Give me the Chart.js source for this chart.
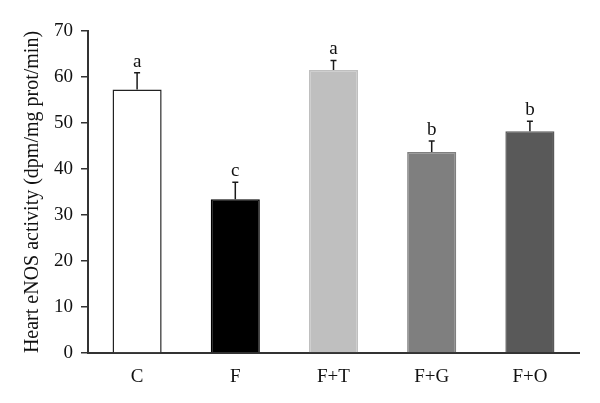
<!DOCTYPE html>
<html>
<head>
<meta charset="utf-8">
<script src="https://cdn.jsdelivr.net/npm/chart.js@4"></script>
<style>
  html, body { margin: 0; padding: 0; background: #fff; }
  #wrap { width: 600px; height: 403px; }
</style>
</head>
<body>
<div id="wrap"><canvas id="grafica"></canvas></div>
<script>
// datos
const grupos = ['C', 'F', 'F+T', 'F+G', 'F+O'];
const actividad = [57.3, 33.4, 61.5, 43.7, 48.2];
const errorSup = [3.6, 3.7, 2.1, 2.4, 2.2];
const letras = ['a', 'c', 'a', 'b', 'b'];
const coloresBarra = ['#ffffff', '#000000', '#bfbfbf', '#7f7f7f', '#595959'];
const bordesBarra = ['#222222', '#000000', '#bfbfbf', '#7f7f7f', '#595959'];
const ticksY = [0, 10, 20, 30, 40, 50, 60, 70];

const fuente = "'Liberation Serif', 'DejaVu Serif', serif";
const colorEje = '#333333';

// barras de error (solo hacia arriba) y letras de significancia
const pluginErrores = {
  id: 'errores',
  afterDatasetsDraw(chart) {
    const ctx = chart.ctx;
    const meta = chart.getDatasetMeta(0);
    const y = chart.scales.y;
    ctx.save();
    meta.data.forEach((barra, i) => {
      const x = barra.x;
      const yTop = y.getPixelForValue(actividad[i]);
      const yErr = y.getPixelForValue(actividad[i] + errorSup[i]);
      ctx.strokeStyle = '#1a1a1a';
      ctx.lineWidth = 1.5;
      ctx.beginPath();
      ctx.moveTo(x, yTop);
      ctx.lineTo(x, yErr);
      ctx.moveTo(x - 3, yErr);
      ctx.lineTo(x + 3, yErr);
      ctx.stroke();
      ctx.fillStyle = '#111';
      ctx.font = '19px ' + fuente;
      ctx.textAlign = 'center';
      ctx.textBaseline = 'alphabetic';
      ctx.fillText(letras[i], x, yErr - 6);
    });
    ctx.restore();
  }
};

new Chart(document.getElementById('grafica'), {
  type: 'bar',
  data: {
    labels: grupos,
    datasets: [{
      data: actividad,
      backgroundColor: coloresBarra,
      borderColor: bordesBarra,
      borderWidth: 1.5,
      barPercentage: 0.5,
      categoryPercentage: 1.0
    }]
  },
  options: {
    responsive: true,
    maintainAspectRatio: false,
    animation: false,
    layout: { padding: { left: 0, right: 21, top: 31, bottom: 0 } },
    plugins: {
      legend: { display: false },
      tooltip: { enabled: false }
    },
    scales: {
      x: {
        grid: { display: false },
        border: { display: true, color: colorEje, width: 2 },
        ticks: { color: '#111', font: { family: fuente, size: 19 }, padding: 5 },
        afterFit: s => { s.height = 50; }
      },
      y: {
        min: 0,
        max: 70,
        afterBuildTicks: s => { s.ticks = ticksY.map(v => ({ value: v })); },
        grid: { display: true, drawOnChartArea: false, drawTicks: true, tickLength: 7, color: colorEje, lineWidth: 1.5 },
        border: { display: true, color: colorEje, width: 2 },
        ticks: { color: '#111', font: { family: fuente, size: 19 }, padding: 8 },
        title: {
          display: true,
          text: 'Heart eNOS activity (dpm/mg prot/min)',
          color: '#111',
          font: { family: fuente, size: 20 },
          padding: { top: 21, bottom: 4 }
        },
        afterFit: s => { s.width = 88; }
      }
    }
  },
  plugins: [pluginErrores]
});
</script>
</body>
</html>
